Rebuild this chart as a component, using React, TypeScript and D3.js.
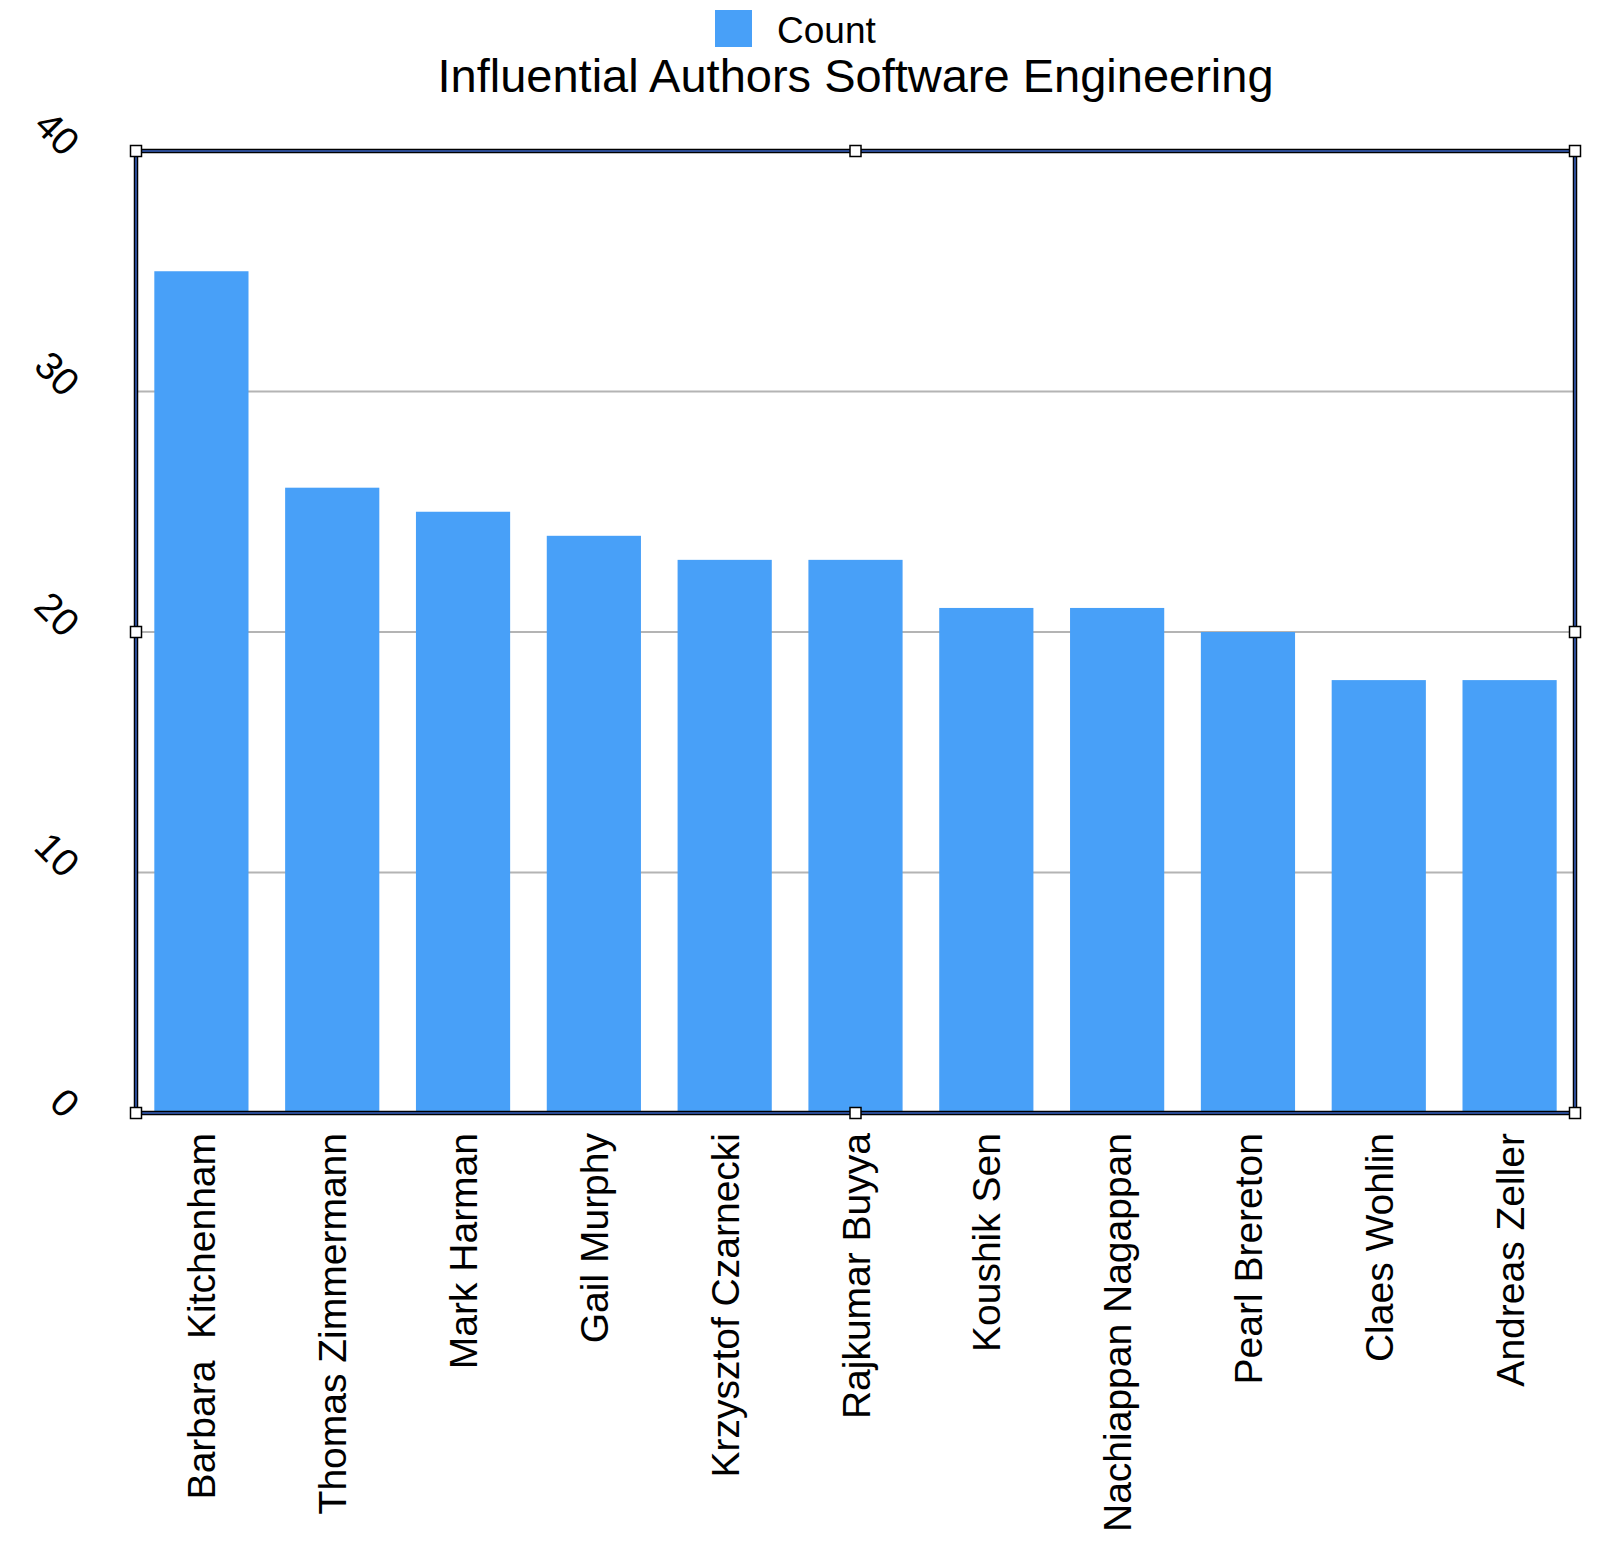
import * as d3 from "d3";

const authors = [
  "Barbara  Kitchenham",
  "Thomas Zimmermann",
  "Mark Harman",
  "Gail Murphy",
  "Krzysztof Czarnecki",
  "Rajkumar Buyya",
  "Koushik Sen",
  "Nachiappan Nagappan",
  "Pearl Brereton",
  "Claes Wohlin",
  "Andreas Zeller",
];
const counts = [35, 26, 25, 24, 23, 23, 21, 21, 20, 18, 18];
const yTicks = [0, 10, 20, 30, 40];
const gridTicks = [10, 20, 30];

const WIDTH = 1622;
const HEIGHT = 1552;
const FONT = "'Liberation Sans', Arial, Helvetica, sans-serif";

export default function App() {
  const left = 136;
  const right = 1575;
  const top = 151;
  const bottom = 1113;

  const x = d3
    .scaleBand<string>()
    .domain(authors)
    .range([left, right])
    .paddingInner(0.28)
    .paddingOuter(0.14);
  const y = d3.scaleLinear().domain([0, 40]).range([bottom, top]);

  const midX = (left + right) / 2;
  const midY = (top + bottom) / 2;
  // little square handles on the frame
  const handles: [number, number][] = [
    [left, top],
    [midX, top],
    [right, top],
    [left, midY],
    [right, midY],
    [left, bottom],
    [midX, bottom],
    [right, bottom],
  ];

  return (
    <>
      <style>{`body{margin:0}`}</style>
      <svg width={WIDTH} height={HEIGHT} style={{ display: "block", fontFamily: FONT }}>
        {/* legend */}
        <rect x={715} y={10} width={37} height={37} fill="#48a0f8" />
        <text x={777} y={43} fontSize={37} fill="#000">
          Count
        </text>

        {/* title */}
        <text x={midX} y={92} fontSize={47} textAnchor="middle" fill="#000">
          Influential Authors Software Engineering
        </text>

        {/* grid */}
        {gridTicks.map((t) => (
          <line
            key={t}
            x1={left}
            x2={right}
            y1={y(t)}
            y2={y(t)}
            stroke="#b4b4b4"
            strokeWidth={2}
          />
        ))}

        {/* bars */}
        {authors.map((a, i) => (
          <rect
            key={a}
            x={x(a)}
            y={y(counts[i])}
            width={x.bandwidth()}
            height={y(0) - y(counts[i])}
            fill="#48a0f8"
          />
        ))}

        {/* frame: black outline with blue core */}
        <rect
          x={left}
          y={top}
          width={right - left}
          height={bottom - top}
          fill="none"
          stroke="#000"
          strokeWidth={4.5}
        />
        <rect
          x={left}
          y={top}
          width={right - left}
          height={bottom - top}
          fill="none"
          stroke="#2a4a92"
          strokeWidth={2}
        />
        {handles.map(([hx, hy], i) => (
          <rect
            key={i}
            x={hx - 5.5}
            y={hy - 5.5}
            width={11}
            height={11}
            fill="#fff"
            stroke="#000"
            strokeWidth={1.5}
          />
        ))}

        {/* y tick labels, tilted */}
        {yTicks.map((t) => (
          <text
            key={t}
            transform={`translate(63,${y(t) + 7}) rotate(45)`}
            textAnchor="end"
            fontSize={39}
            fill="#000"
          >
            {t}
          </text>
        ))}

        {/* x labels, vertical */}
        {authors.map((a) => (
          <text
            key={a}
            transform={`translate(${(x(a) ?? 0) + x.bandwidth() / 2},1133) rotate(-90)`}
            textAnchor="end"
            dy="0.36em"
            fontSize={39}
            fill="#000"
            style={{ whiteSpace: "pre" }}
          >
            {a}
          </text>
        ))}
      </svg>
    </>
  );
}
